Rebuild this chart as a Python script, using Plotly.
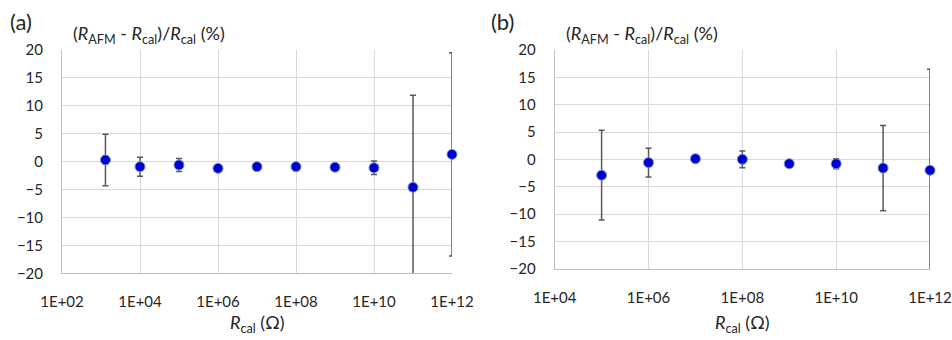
import plotly.graph_objects as go

# ---- data ----
a_x = [1.3e3, 1e4, 1e5, 1e6, 1e7, 1e8, 1e9, 1e10, 1e11, 1e12]
a_y = [0.3, -0.9, -0.6, -1.2, -0.9, -0.9, -1.0, -1.1, -4.6, 1.3]
a_err = [4.6, 1.7, 1.15, 0.3, 0.3, 0.7, 0.4, 1.2, 16.5, 18.2]

b_x = [1e5, 1e6, 1e7, 1e8, 1e9, 1e10, 1e11, 1e12]
b_y = [-2.9, -0.6, 0.1, 0.0, -0.8, -0.8, -1.6, -2.0]
b_err = [8.2, 2.65, 0.6, 1.55, 0.2, 0.9, 7.8, 18.5]

a_xticks = [1e2, 1e4, 1e6, 1e8, 1e10, 1e12]
a_xlabels = ["1E+02", "1E+04", "1E+06", "1E+08", "1E+10", "1E+12"]
b_xticks = [1e4, 1e6, 1e8, 1e10, 1e12]
b_xlabels = ["1E+04", "1E+06", "1E+08", "1E+10", "1E+12"]
y_ticks = [20, 15, 10, 5, 0, -5, -10, -15, -20]

FONT = "Lato"
TXT = "#262626"
GRID = "#d9d9d9"
AXL = "#bfbfbf"
MK = "#0000cc"
ERR = "#595959"

fig = go.Figure()

def add_series(xs, ys, errs, xa, ya):
    # error bars (clipped to plot area)
    fig.add_trace(go.Scatter(
        x=xs, y=ys, mode="markers", xaxis=xa, yaxis=ya,
        marker=dict(size=1, color="rgba(0,0,0,0)"),
        error_y=dict(type="data", array=errs, visible=True, color=ERR,
                     thickness=1.5, width=3),
        cliponaxis=True, showlegend=False, hoverinfo="skip"))
    # markers (not clipped)
    fig.add_trace(go.Scatter(
        x=xs, y=ys, mode="markers", xaxis=xa, yaxis=ya,
        marker=dict(size=10, color=MK, line=dict(color="#6f8fe0", width=1)),
        cliponaxis=False, showlegend=False))

add_series(a_x, a_y, a_err, "x", "y")
add_series(b_x, b_y, b_err, "x2", "y2")

W, H = 952, 340
def xd(a, b):
    return [a / W, b / W]
def yd(top, bot):
    return [(H - bot) / H, (H - top) / H]

common_x = dict(type="log", showgrid=True, gridcolor=GRID, gridwidth=1,
                showline=True, linecolor=AXL, linewidth=1, zeroline=False,
                ticks="outside", ticklen=15, tickcolor="rgba(0,0,0,0)",
                automargin=False,
                tickfont=dict(family=FONT, size=15, color=TXT))
common_y = dict(range=[-20, 20], tickvals=y_ticks, showgrid=True,
                gridcolor=GRID, gridwidth=1, showline=True, linecolor=AXL,
                linewidth=1, zeroline=False, ticks="outside", ticklen=15,
                tickcolor="rgba(0,0,0,0)", automargin=False,
                tickfont=dict(family=FONT, size=15, color=TXT))

fig.update_layout(
    width=W, height=H, margin=dict(l=0, r=0, t=0, b=0),
    paper_bgcolor="white", plot_bgcolor="white",
    xaxis=dict(common_x, domain=xd(62, 452), range=[2, 12],
               tickvals=a_xticks, ticktext=a_xlabels, anchor="y"),
    yaxis=dict(common_y, domain=yd(50, 273.3), anchor="x"),
    xaxis2=dict(common_x, domain=xd(554.7, 930), range=[4, 12],
                tickvals=b_xticks, ticktext=b_xlabels, anchor="y2"),
    yaxis2=dict(common_y, domain=yd(50, 268.7), anchor="x2"),
)

ytitle = "(<i>R</i><sub>AFM</sub> - <i>R</i><sub>cal</sub>)/<i>R</i><sub>cal</sub> (%)"
xtitle = "<i>R</i><sub>cal</sub> (Ω)"

for txt, xpos in [("(a)", 8), ("(b)", 489)]:
    fig.add_annotation(xref="paper", yref="paper", x=xpos / W, y=(H - 22) / H,
                       xanchor="left", yanchor="middle", showarrow=False,
                       text=txt, font=dict(family=FONT, size=22, color=TXT))
for xpos in [71, 564]:
    fig.add_annotation(xref="paper", yref="paper", x=xpos / W, y=(H - 35) / H,
                       xanchor="left", yanchor="middle", showarrow=False,
                       text=ytitle, font=dict(family=FONT, size=18, color=TXT))
for xpos in [257, 742]:
    fig.add_annotation(xref="paper", yref="paper", x=xpos / W, y=(H - 323) / H,
                       xanchor="center", yanchor="middle", showarrow=False,
                       text=xtitle, font=dict(family=FONT, size=18, color=TXT))

fig.write_html("out.html")
